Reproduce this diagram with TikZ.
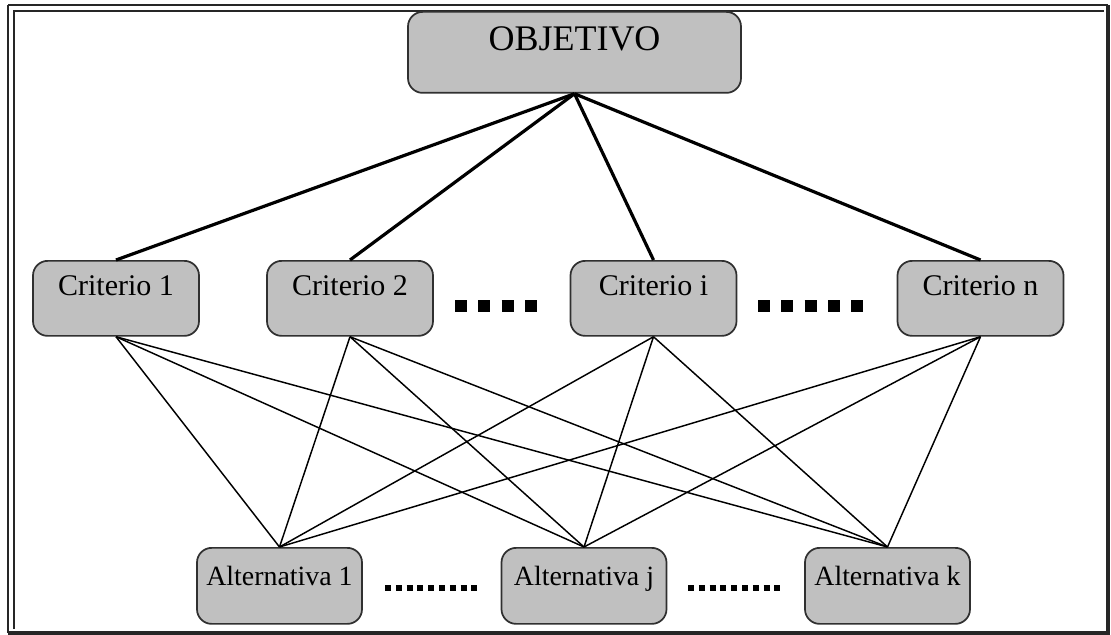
\documentclass[tikz,border=0pt]{standalone}
\usepackage{fontspec}
\setmainfont{Liberation Serif}
\usetikzlibrary{positioning}
\definecolor{boxgray}{HTML}{C0C0C0}
\definecolor{boxline}{HTML}{303030}

\begin{document}
\begin{tikzpicture}[x=0.75pt, y=-0.75pt,
  box/.style = {draw=boxline, line width=1.3pt, fill=boxgray, rounded corners=11pt,
                inner xsep=0pt, inner ysep=0pt, anchor=north},
  objbox/.style = {box, minimum width=249.75pt, text height=29.25pt, text depth=31.5pt,
                   font=\fontsize{27}{30}\selectfont},
  critbox/.style = {box, minimum width=124.5pt, text height=26.25pt, text depth=30pt,
                    font=\fontsize{22.5}{25}\selectfont},
  altbox/.style = {box, minimum width=123.75pt, text height=28.5pt, text depth=28.5pt,
                   font=\fontsize{20.9}{23}\selectfont},
  bigdots/.style = {line width=9pt, dash pattern=on 9pt off 8.5pt},
  smalldots/.style = {line width=4pt, dash pattern=on 4.5pt off 3.6pt}]
\useasboundingbox (0,0) rectangle (1111,635);

% frame
\draw[line width=1.6pt, draw=black!85] (8,5) -- (1108,5);
\draw[line width=1.6pt, draw=black!85] (8,5) -- (8,633);
\draw[line width=2.4pt, draw=black!85] (8,633) -- (1108,633) -- (1108,5);
\draw[line width=1.5pt, draw=black!85] (14,629) -- (14,11) -- (1104,11);

% nodes
\node[objbox] (obj) at (574.5,11) {OBJETIVO};

\node[critbox] (c1) at (116,260) {Criterio 1};
\node[critbox] (c2) at (350,260) {Criterio 2};
\node[critbox] (ci) at (653.5,260) {Criterio i};
\node[critbox] (cn) at (980.5,260) {Criterio n};

\node[altbox] (a1) at (279.5,547) {Alternativa 1};
\node[altbox] (aj) at (584,547) {Alternativa j};
\node[altbox] (ak) at (887.5,547) {Alternativa k};

% dots between the boxes
\coordinate (d1) at (455,306);
\coordinate (d2) at (548,306);
\coordinate (d3) at (758,306);
\coordinate (d4) at (874,306);
\coordinate (e1) at (385,588);
\coordinate (e2) at (481,588);
\coordinate (e3) at (688,588);
\coordinate (e4) at (784,588);
\draw[bigdots] (d1) -- (d2);
\draw[bigdots] (d3) -- (d4);
\draw[smalldots] (e1) -- (e2);
\draw[smalldots] (e3) -- (e4);

% links
\foreach \c in {c1,c2,ci,cn}
  \draw[line width=2.4pt] (obj.south) -- (\c.north);
\foreach \c in {c1,c2,ci,cn}
  \foreach \a in {a1,aj,ak}
    \draw[line width=1.1pt] (\c.south) -- (\a.north);
\end{tikzpicture}
\end{document}
